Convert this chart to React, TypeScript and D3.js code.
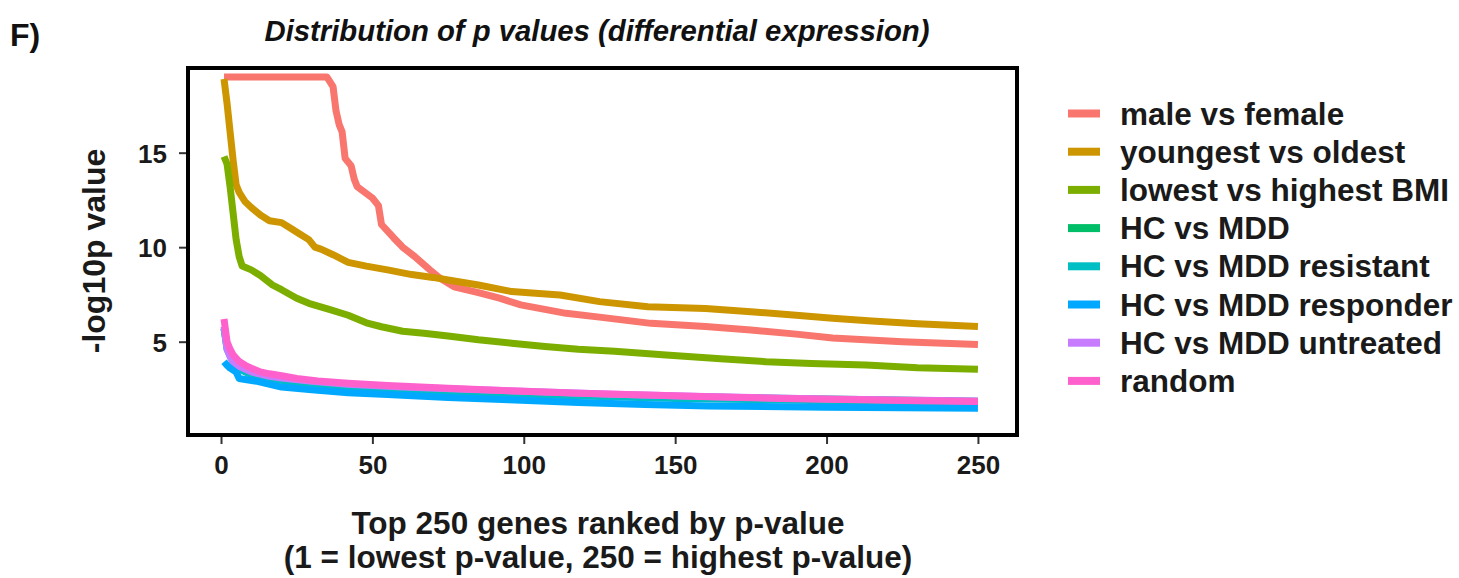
import React, { useEffect, useRef } from 'react'
import * as d3 from 'd3'

// series labels (legend order) and ggplot hue colours
const seriesNames = [
  'male vs female',
  'youngest vs oldest',
  'lowest vs highest BMI',
  'HC vs MDD',
  'HC vs MDD resistant',
  'HC vs MDD responder',
  'HC vs MDD untreated',
  'random',
]
const seriesColors = ['#F8766D', '#CD9600', '#7CAE00', '#00BE67', '#00BFC4', '#00A9FF', '#C77CFF', '#FF61CC']

// ranks / -log10p
const maleRanks = [1, 35, 37, 38, 39, 40, 41, 43, 44, 45, 50, 52, 53, 57, 60, 64, 69, 72, 77, 85, 92, 99, 114, 125, 142, 160, 175, 190, 202, 225, 250]
const maleVals = [19.0, 19.0, 18.5, 17.2, 16.5, 16.1, 14.7, 14.3, 13.6, 13.2, 12.6, 12.2, 11.2, 10.5, 10.0, 9.5, 8.8, 8.4, 7.9, 7.6, 7.3, 6.95, 6.5, 6.3, 5.97, 5.8, 5.62, 5.4, 5.2, 5.0, 4.85]

const ageRanks = [1, 2, 3, 4, 5, 6, 8, 10, 13, 16, 20, 23, 26, 29, 31, 33, 37, 42, 48, 55, 63, 70, 75, 85, 96, 105, 112, 125, 141, 160, 175, 190, 202, 215, 230, 250]
const ageVals = [18.9, 17.6, 16.1, 14.6, 13.3, 12.9, 12.4, 12.1, 11.7, 11.4, 11.3, 11.0, 10.7, 10.4, 10.0, 9.9, 9.6, 9.2, 9.0, 8.8, 8.55, 8.4, 8.26, 8.0, 7.65, 7.55, 7.47, 7.12, 6.85, 6.75, 6.59, 6.4, 6.24, 6.1, 5.95, 5.8]

const bmiRanks = [1, 2, 3, 4, 5, 6, 7, 10, 13, 17, 20, 25, 29, 36, 42, 48, 53, 60, 67, 75, 85, 96, 107, 118, 130, 147, 165, 180, 195, 213, 230, 250]
const bmiVals = [14.8, 14.4, 13.2, 11.8, 10.4, 9.5, 9.0, 8.8, 8.5, 8.0, 7.75, 7.3, 7.03, 6.7, 6.4, 6.0, 5.79, 5.55, 5.45, 5.3, 5.1, 4.92, 4.75, 4.6, 4.5, 4.3, 4.1, 3.94, 3.85, 3.77, 3.62, 3.54]

const mddRanks = [1, 2, 4, 6, 10, 20, 30, 45, 70, 100, 150, 200, 250]
const mddVals = [5.7, 4.7, 3.95, 3.65, 3.35, 3.0, 2.85, 2.65, 2.45, 2.3, 2.1, 1.97, 1.85]

const resistantRanks = [1, 2, 4, 6, 10, 20, 30, 45, 70, 100, 150, 200, 250]
const resistantVals = [5.7, 4.6, 3.9, 3.55, 3.25, 2.95, 2.75, 2.55, 2.35, 2.2, 2.0, 1.88, 1.78]

const responderRanks = [1, 2, 3, 5, 6, 8, 12, 20, 30, 42, 55, 75, 95, 118, 140, 161, 200, 250]
const responderVals = [3.94, 3.75, 3.6, 3.4, 3.05, 3.0, 2.9, 2.6, 2.45, 2.3, 2.2, 2.05, 1.93, 1.78, 1.68, 1.6, 1.53, 1.48]

const untreatedRanks = [1, 2, 3, 4, 6, 10, 15, 20, 30, 42, 60, 80, 100, 130, 160, 200, 250]
const untreatedVals = [5.8, 4.6, 4.2, 3.95, 3.7, 3.4, 3.2, 3.08, 2.9, 2.75, 2.6, 2.48, 2.38, 2.22, 2.1, 1.97, 1.86]

const randomRanks = [1, 2, 3, 4, 6, 8, 10, 13, 16, 20, 25, 32, 42, 55, 75, 95, 118, 140, 161, 185, 211, 230, 250]
const randomVals = [6.2, 5.0, 4.6, 4.3, 3.95, 3.75, 3.6, 3.4, 3.3, 3.2, 3.05, 2.92, 2.8, 2.68, 2.53, 2.4, 2.27, 2.18, 2.09, 2.0, 1.93, 1.88, 1.83]

const seriesRanks = [maleRanks, ageRanks, bmiRanks, mddRanks, resistantRanks, responderRanks, untreatedRanks, randomRanks]
const seriesVals = [maleVals, ageVals, bmiVals, mddVals, resistantVals, responderVals, untreatedVals, randomVals]

const xTicks = [0, 50, 100, 150, 200, 250]
const yTicks = [5, 10, 15]

const FONT = '"Liberation Sans", Arial, sans-serif'

const App = () => {
  const ref = useRef<SVGSVGElement>(null)

  useEffect(() => {
    const W = 1459
    const H = 578
    const plot = { left: 188, right: 1017, top: 68, bottom: 435 }

    const svg = d3.select(ref.current)
    svg.selectAll('*').remove()
    svg.attr('width', W).attr('height', H)

    svg.append('rect').attr('width', W).attr('height', H).attr('fill', '#fff')

    const x = d3.scaleLinear().domain([-10.9, 262.9]).range([plot.left, plot.right])
    const y = d3.scaleLinear().domain([0.063, 19.48]).range([plot.bottom, plot.top])

    // lines
    const line = d3.line<[number, number]>()
      .x((d) => x(d[0]))
      .y((d) => y(d[1]))

    seriesNames.forEach((name, i) => {
      const pts = seriesRanks[i].map((r, j) => [r, seriesVals[i][j]] as [number, number])
      svg.append('path')
        .attr('d', line(pts))
        .attr('fill', 'none')
        .attr('stroke', seriesColors[i])
        .attr('stroke-width', 7)
        .attr('stroke-linejoin', 'round')
        .attr('stroke-linecap', 'butt')
    })

    // panel frame
    svg.append('rect')
      .attr('x', plot.left)
      .attr('y', plot.top)
      .attr('width', plot.right - plot.left)
      .attr('height', plot.bottom - plot.top)
      .attr('fill', 'none')
      .attr('stroke', '#000')
      .attr('stroke-width', 4)

    // axes
    const xAxis = svg.append('g')
      .attr('transform', `translate(0, ${plot.bottom + 2})`)
      .call(d3.axisBottom(x).tickValues(xTicks).tickSize(7).tickPadding(12).tickFormat(d3.format('d')))
    const yAxis = svg.append('g')
      .attr('transform', `translate(${plot.left - 2}, 0)`)
      .call(d3.axisLeft(y).tickValues(yTicks).tickSize(7).tickPadding(12).tickFormat(d3.format('d')))

    ;[xAxis, yAxis].forEach((ax) => {
      ax.select('.domain').remove()
      ax.selectAll('line').attr('stroke', '#333').attr('stroke-width', 2)
      ax.selectAll('text')
        .attr('fill', '#1a1a1a')
        .style('font-family', FONT)
        .style('font-weight', 'bold')
        .style('font-size', '26px')
    })
    yAxis.selectAll('text').attr('dy', '0.36em')

    // titles
    svg.append('text')
      .attr('x', 10)
      .attr('y', 46)
      .text('F)')
      .style('font-family', FONT)
      .style('font-weight', 'bold')
      .style('font-size', '32px')
      .attr('fill', '#111')

    svg.append('text')
      .attr('x', 597)
      .attr('y', 41)
      .attr('text-anchor', 'middle')
      .attr('textLength', 665)
      .attr('lengthAdjust', 'spacingAndGlyphs')
      .text('Distribution of p values (differential expression)')
      .style('font-family', '"Liberation Sans Narrow", "Liberation Sans", Arial, sans-serif')
      .style('font-weight', 'bold')
      .style('font-style', 'italic')
      .style('font-size', '29px')
      .attr('fill', '#111')

    svg.append('text')
      .attr('transform', `translate(105, 251) rotate(-90)`)
      .attr('text-anchor', 'middle')
      .text('-log10p value')
      .style('font-family', FONT)
      .style('font-weight', 'bold')
      .style('font-size', '32px')
      .attr('fill', '#1a1a1a')

    const xTitle = ['Top 250 genes ranked by p-value', '(1 = lowest p-value, 250 = highest p-value)']
    xTitle.forEach((t, i) => {
      svg.append('text')
        .attr('x', 598)
        .attr('y', 534 + i * 34)
        .attr('text-anchor', 'middle')
        .text(t)
        .style('font-family', FONT)
        .style('font-weight', 'bold')
        .style('font-size', '31.5px')
        .attr('fill', '#1a1a1a')
    })

    // legend
    const legend = svg.append('g').attr('transform', 'translate(1068, 113.5)')
    seriesNames.forEach((name, i) => {
      const row = legend.append('g').attr('transform', `translate(0, ${i * 38.2})`)
      row.append('line')
        .attr('x1', 0).attr('x2', 32)
        .attr('stroke', seriesColors[i])
        .attr('stroke-width', 8)
      row.append('text')
        .attr('x', 52)
        .attr('y', 11)
        .text(name)
        .style('font-family', FONT)
        .style('font-weight', 'bold')
        .style('font-size', '31.5px')
        .attr('fill', '#1a1a1a')
    })
  }, [])

  return (
    <div style={{ position: 'absolute', left: 0, top: 0 }}>
      <svg ref={ref} style={{ display: 'block' }}></svg>
    </div>
  )
}

export default App
